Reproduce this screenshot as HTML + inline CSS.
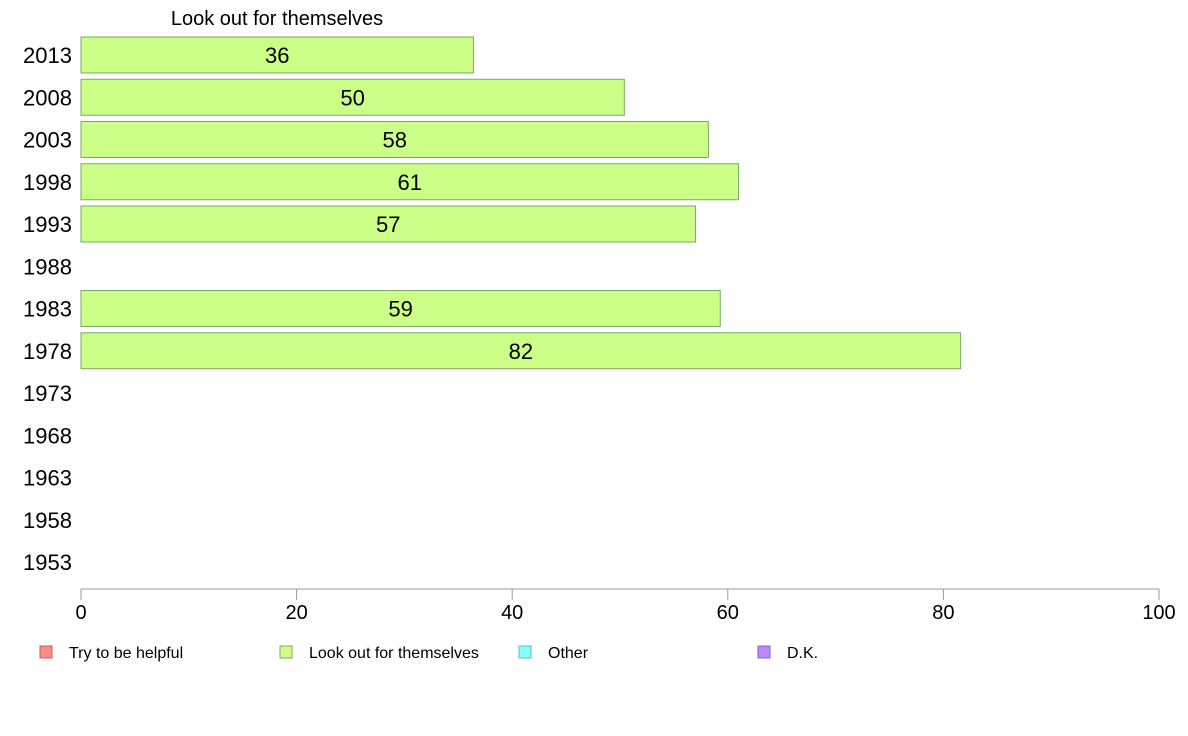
<!DOCTYPE html>
<html><head><meta charset="utf-8"><style>
body{margin:0;background:#fff;font-family:"Liberation Sans",sans-serif}
svg{display:block}
</style></head><body>
<svg id="chart" width="1188" height="736" font-family="Liberation Sans, sans-serif">
<text x="277" y="25" font-size="20" text-anchor="middle" fill="#000">Look out for themselves</text>
<line x1="81" y1="589" x2="1159" y2="589" stroke="#999"/>
<g id="g-ticks"></g><g id="g-cats"></g><g id="g-bars"></g>
<g font-size="16">
<rect x="40" y="646" width="12" height="12" fill="#ff8a8a" stroke="#c06060"/>
<text x="69" y="658">Try to be helpful</text>
<rect x="280" y="646" width="12" height="12" fill="#ccff88" stroke="#88aa66"/>
<text x="309" y="658">Look out for themselves</text>
<rect x="519" y="646" width="12" height="12" fill="#88ffff" stroke="#66bbbb"/>
<text x="548" y="658">Other</text>
<rect x="758" y="646" width="12" height="12" fill="#bb88ff" stroke="#8866bb"/>
<text x="787" y="658">D.K.</text>
</g>
</svg>
<script>
const categories=["2013","2008","2003","1998","1993","1988","1983","1978","1973","1968","1963","1958","1953"];
const values=[36.4,50.4,58.2,61.0,57.0,null,59.3,81.6,null,null,null,null,null];
const labels=["36","50","58","61","57","","59","82","","","","",""];
const ticks=[0,20,40,60,80,100];
const NS="http://www.w3.org/2000/svg";
const x=v=>81+v*10.78;
const y=i=>55+i*42.25;
function mk(t,a,p){const e=document.createElementNS(NS,t);for(const k in a)e.setAttribute(k,a[k]);p.appendChild(e);return e;}
const gt=document.getElementById('g-ticks'),gc=document.getElementById('g-cats'),gb=document.getElementById('g-bars');
ticks.forEach(t=>{
 const l=mk('line',{x1:x(t),x2:x(t),y1:589,y2:600,stroke:'#999'},gt);
 
 
 const tx=mk('text',{x:x(t),y:619,'font-size':20,'text-anchor':'middle'},gt);
 tx.textContent=t;
 
 
});
categories.forEach((c,i)=>{
 const tx=mk('text',{x:72,y:y(i)+8,'font-size':22,'text-anchor':'end'},gc);
 tx.textContent=c;
 
 
 const v=values[i];
 if(v==null)return;
 const r=mk('rect',{x:x(0),y:y(i)-18,width:x(v)-x(0),height:36,fill:'#ccff88',stroke:'#77aa66','stroke-width':1},gb);
 
 
 const lt=mk('text',{x:(x(0)+x(v))/2,y:y(i)+8,'font-size':22,'text-anchor':'middle'},gb);
 lt.textContent=labels[i];
 
 
});
</script>
</body></html>
